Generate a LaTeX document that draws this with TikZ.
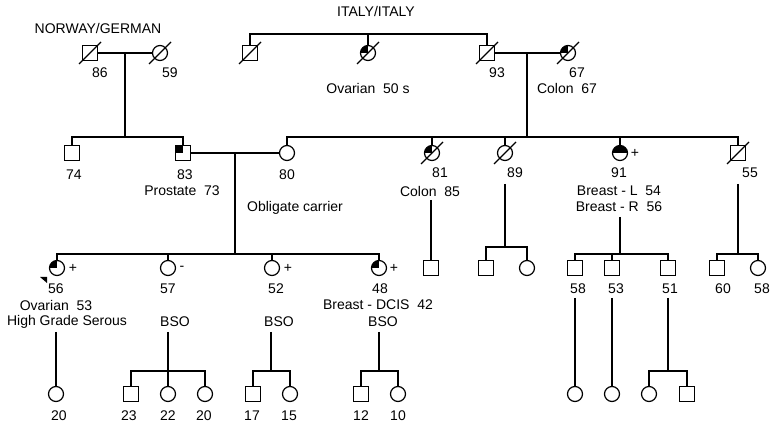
\documentclass[tikz,border=0pt]{standalone}
\usepackage{fontspec}
\setmainfont{Liberation Sans}
\usetikzlibrary{positioning}

\begin{document}
\begin{tikzpicture}[%
    x=1pt, y=-1pt,              % Pixel grid of the scan, y grows downwards
    line width=1.2pt,           % Heavy lines everywhere
    every node/.style={font=\fontsize{14}{16}\selectfont},
    ]
\tikzset{
  base/.style={draw, inner sep=0pt, minimum size=15pt, fill=white},
  male/.style={base, rectangle},
  female/.style={base, circle},
  ulq/.style={path picture={\fill[black] (path picture bounding box.center) rectangle (path picture bounding box.north west);}},
  tophalf/.style={path picture={\fill[black] (path picture bounding box.west) rectangle (path picture bounding box.north east);}},
  txt/.style={inner sep=0pt},
}
\useasboundingbox (0,0) rectangle (774,427);

% generation I
\node [txt] (norway) at (98,29) {NORWAY/GERMAN};
\node [txt] (italy) at (376,12) {ITALY/ITALY};
\node [male] (m86) at (90,53) {};
\node [female] (f59) at (160,53) {};
\node [male] (mi1) at (250,53) {};
\node [female,ulq] (fov) at (368,53) {};
\node [male] (m93) at (487,53) {};
\node [female,ulq] (f67) at (568,53) {};
\node [txt] (l86) at (100,73) {86};
\node [txt] (l59) at (170,73) {59};
\node [txt] (l93) at (497,73) {93};
\node [txt] (l67) at (577,73) {67};
\node [txt] (lov) at (368,89) {Ovarian~~50 s};
\node [txt] (lco67) at (567,89) {Colon~~67};

% generation II
\node [male] (m74) at (72,153) {};
\node [male,ulq] (m83) at (183,153) {};
\node [female] (f80) at (287,153) {};
\node [female,ulq] (f81) at (432,153) {};
\node [female] (f89) at (505,153) {};
\node [female,tophalf] (f91) at (620,153) {};
\node [male] (m55) at (738,153) {};
\node [txt] (l74) at (74,175) {74};
\node [txt] (l83) at (185,175) {83};
\node [txt] (lpr) at (182,191) {Prostate~~73};
\node [txt] (l80) at (287,175) {80};
\node [txt] (lobl) at (295,208) {Obligate carrier};
\node [txt] (l81) at (440,173) {81};
\node [txt] (lco85) at (430,191) {Colon~~85};
\node [txt] (l89) at (515,173) {89};
\node [txt] (p91) at (635,153) {+};
\node [txt] (l91) at (619,173) {91};
\node [txt] (lbl) at (619,191) {Breast - L~~54};
\node [txt] (lbr) at (619,207) {Breast - R~~56};
\node [txt] (l55) at (750,173) {55};

% generation III
\node [female,ulq] (f56) at (57,268) {};
\node [female] (f57) at (168,268) {};
\node [female] (f52) at (272,268) {};
\node [female,ulq] (f48) at (379,268) {};
\node [male] (m81c) at (431,268) {};
\node [male] (m89c) at (486,268) {};
\node [female] (f89c) at (527,268) {};
\node [male] (m58) at (575,268) {};
\node [male] (m53) at (612,268) {};
\node [male] (m51) at (668,268) {};
\node [male] (m60) at (717,268) {};
\node [female] (f58) at (758,268) {};
\node [txt] (p56) at (73,268) {+};
\node [txt] (l56) at (56,289) {56};
\node [txt] (lov53) at (56,305) {Ovarian~~53};
\node [txt] (lhgs) at (67,322) {High Grade Serous};
\node [txt] (n57) at (182,268) {-};
\node [txt] (l57) at (168,289) {57};
\node [txt] (bso57) at (175,322) {BSO};
\node [txt] (p52) at (288,268) {+};
\node [txt] (l52) at (276,289) {52};
\node [txt] (bso52) at (279,322) {BSO};
\node [txt] (p48) at (394,268) {+};
\node [txt] (l48) at (380,289) {48};
\node [txt] (ldcis) at (378,305) {Breast - DCIS~~42};
\node [txt] (bso48) at (383,322) {BSO};
\node [txt] (l58) at (578,289) {58};
\node [txt] (l53) at (616,289) {53};
\node [txt] (l51) at (670,289) {51};
\node [txt] (l60) at (723,289) {60};
\node [txt] (l58b) at (762,289) {58};

% generation IV
\node [female] (f20a) at (56,394) {};
\node [male] (m23) at (131,394) {};
\node [female] (f22) at (168,394) {};
\node [female] (f20b) at (205,394) {};
\node [male] (m17) at (253,394) {};
\node [female] (f15) at (290,394) {};
\node [male] (m12) at (361,394) {};
\node [female] (f10) at (398,394) {};
\node [female] (f58c) at (575,394) {};
\node [female] (f53c) at (612,394) {};
\node [female] (f51c) at (649,394) {};
\node [male] (m51c) at (687,394) {};
\node [txt] (l20a) at (59,416) {20};
\node [txt] (l23) at (129,416) {23};
\node [txt] (l22) at (168,416) {22};
\node [txt] (l20b) at (204,416) {20};
\node [txt] (l17) at (252,416) {17};
\node [txt] (l15) at (289,416) {15};
\node [txt] (l12) at (361,416) {12};
\node [txt] (l10) at (398,416) {10};

% deceased
\foreach \n in {m86,f59,mi1,fov,m93,f67,f81,f89,m55}
  \draw ([shift={(-11,11)}]\n.center) -- ([shift={(11,-11)}]\n.center);

% proband
\fill ([shift={(-17,9)}]f56.center) -- ([shift={(-10,9)}]f56.center) -- ([shift={(-10,15)}]f56.center) -- cycle;

% couples and sibships
\coordinate (s0) at (368,34);
\draw (mi1.north) |- (s0) -| (m93.north);
\draw (s0) -- (fov.north);

\draw (m86) -- (f59);
\coordinate (d1) at (125,53);
\coordinate (s1) at (125,137);
\draw (d1) -- (s1);
\draw (m74.north) |- (s1) -| (m83.north);

\draw (m93) -- (f67);
\coordinate (d2) at (527,53);
\coordinate (s2) at (527,137);
\draw (d2) -- (s2);
\draw (f80.north) |- (s2) -| (m55.north);
\foreach \n in {f81,f89,f91}
  \draw (\n.north) -- (\n.north |- s2);

\draw (m83) -- (f80);
\coordinate (d3) at (235,153);
\coordinate (s3) at (235,254);
\draw (d3) -- (s3);
\draw (f56.north) |- (s3) -| (f48.north);
\foreach \n in {f57,f52}
  \draw (\n.north) -- (\n.north |- s3);

\coordinate (t81) at (431,200);
\draw (t81) -- (m81c.north);
\coordinate (t89) at (505,184);
\coordinate (s89) at (505,247);
\draw (t89) -- (s89);
\draw (m89c.north) |- (s89) -| (f89c.north);
\coordinate (t91) at (620,217);
\coordinate (s91) at (620,254);
\draw (t91) -- (s91);
\draw (m58.north) |- (s91) -| (m51.north);
\draw (m53.north) -- (m53.north |- s91);
\coordinate (t55) at (738,184);
\coordinate (s55) at (738,254);
\draw (t55) -- (s55);
\draw (m60.north) |- (s55) -| (f58.north);

\coordinate (t56) at (56,332);
\draw (t56) -- (f20a.north);
\coordinate (t57) at (168,332);
\coordinate (s57) at (168,371);
\draw (t57) -- (s57);
\draw (m23.north) |- (s57) -| (f20b.north);
\draw (s57) -- (f22.north);
\coordinate (t52) at (271,332);
\coordinate (s52) at (271,371);
\draw (t52) -- (s52);
\draw (m17.north) |- (s52) -| (f15.north);
\coordinate (t48) at (379,332);
\coordinate (s48) at (379,371);
\draw (t48) -- (s48);
\draw (m12.north) |- (s48) -| (f10.north);

\coordinate (t58) at (575,298);
\draw (t58) -- (f58c.north);
\coordinate (t53) at (612,298);
\draw (t53) -- (f53c.north);
\coordinate (t51) at (668,298);
\coordinate (s51) at (668,371);
\draw (t51) -- (s51);
\draw (f51c.north) |- (s51) -| (m51c.north);

\end{tikzpicture}
\end{document}
